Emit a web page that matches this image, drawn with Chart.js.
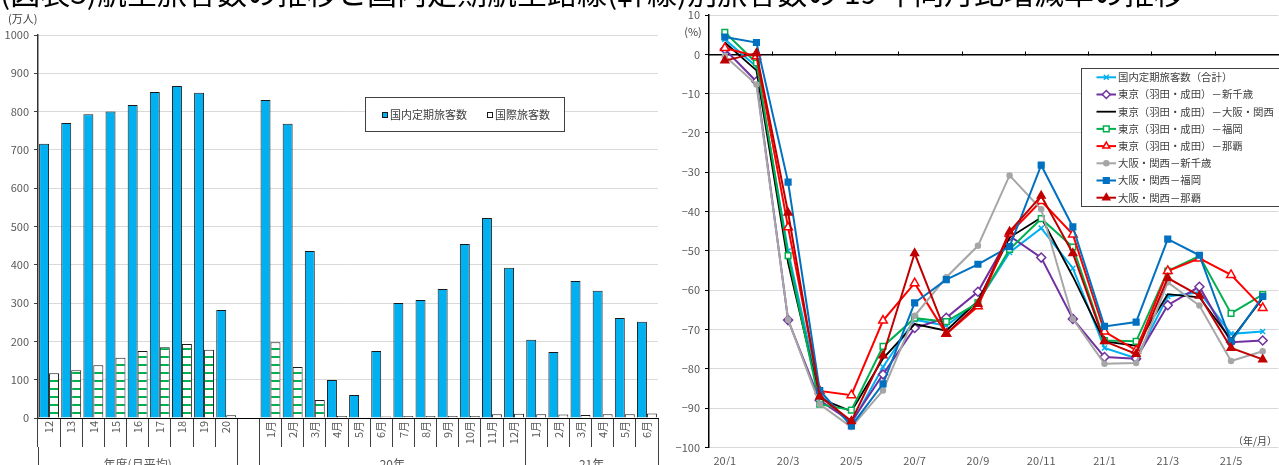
<!DOCTYPE html>
<html lang="ja">
<head>
<meta charset="utf-8">
<title>航空旅客数の推移</title>
<script src="https://cdn.jsdelivr.net/npm/chart.js@4.4.1/dist/chart.umd.min.js"></script>
<style>
  html, body { margin: 0; padding: 0; background: #fff; }
  body { width: 1279px; height: 465px; overflow: hidden; position: relative;
         font-family: "Noto Sans CJK JP", sans-serif; }
  #title { position: absolute; left: 0; top: -24px; font-size: 30px; line-height: 30px;
           white-space: pre; color: #000; z-index: 2; }
  #wrapL { position: absolute; left: 0; top: 0; width: 660px; height: 465px; }
  #wrapR { position: absolute; left: 660px; top: 0; width: 625px; height: 465px; }
</style>
</head>
<body>
<div id="wrapL"><canvas id="left" width="660" height="465"></canvas></div>
<div id="wrapR"><canvas id="right" width="625" height="465"></canvas></div>
<div id="title">(図表3)航空旅客数の推移と国内定期航空路線(幹線)別旅客数の 19 年同月比増減率の推移</div>

<script>
// ---- passenger volumes (10,000 persons) ----
const fiscalYears = ['12', '13', '14', '15', '16', '17', '18', '19', '20'];
const months2020 = ['1月', '2月', '3月', '4月', '5月', '6月', '7月', '8月', '9月', '10月', '11月', '12月'];
const months2021 = ['1月', '2月', '3月', '4月', '5月', '6月'];
const barCategories = [...fiscalYears, '', ...months2020, ...months2021];

const domesticPassengers = [716, 770, 793, 800, 817, 851, 867, 849, 282, null,
  830, 768, 436, 99, 60, 175, 300, 308, 337, 454, 522, 392,
  204, 172, 358, 332, 261, 251];
const internationalPassengers = [117, 125, 138, 157, 175, 185, 193, 178, 7, null,
  198, 133, 47, 5, 2, 4, 5, 5, 5, 5, 10, 11,
  10, 9, 8, 10, 10, 12];

const groupNames = ['年度(月平均)', '20年', '21年'];
const groupEdges = [0, 9, 10, 22, 28];
const groupCenters = [4.5, 16, 25];

// ---- change vs. same month of 2019 (%) ----
const monthLabels = ['20/1', '20/2', '20/3', '20/4', '20/5', '20/6', '20/7', '20/8', '20/9', '20/10', '20/11', '20/12',
  '21/1', '21/2', '21/3', '21/4', '21/5', '21/6'];
const totalDomestic   = [3.8, -3.1, -50, -86.5, -94, -79.5, -67.5, -69, -63, -50.4, -44.2, -54.4, -74.7, -77.3, -61.6, -60.5, -71.1, -70.5];
const tokyoSapporo    = [1.3, -6.9, -67.6, -88, -93.5, -81.4, -69.6, -67, -60.4, -46.2, -51.7, -67.3, -77, -77.4, -63.8, -59.1, -73.2, -72.8];
const tokyoOsaka      = [3.0, -4.1, -53, -87.5, -90.8, -77.4, -68.6, -70.3, -62.7, -46.6, -41.5, -56.5, -73, -74.1, -61, -61.8, -72.6, -62];
const tokyoFukuoka    = [5.6, -2.2, -51.2, -89, -90.5, -74.3, -67.1, -68, -63.2, -49.6, -41.8, -49, -72.8, -73, -55.1, -51.3, -65.9, -61.1];
const tokyoNaha       = [1.6, -0.5, -44, -85.6, -86.7, -67.7, -58.2, -71.1, -64.1, -45.6, -37.3, -45.8, -70.5, -75.3, -55.1, -51.9, -56.1, -64.5];
const osakaSapporo    = [-0.4, -7.7, -67.5, -89, -94.8, -85.5, -66.5, -56.7, -48.7, -30.8, -39.4, -67.3, -78.7, -78.5, -58, -63.9, -78, -75.5];
const osakaFukuoka    = [4.4, 3.0, -32.5, -85.5, -94.5, -83.8, -63.2, -57.3, -53.4, -48.9, -28.2, -43.9, -69.2, -68.1, -47, -51.1, -73, -61.6];
const osakaNaha       = [-1.6, 0.3, -40.3, -87, -93.3, -76.6, -50.6, -71.1, -63.5, -45.1, -36, -50.6, -73, -76.2, -56.9, -61.4, -74.7, -77.6];

const routeNames = ['国内定期旅客数（合計）', '東京（羽田・成田）－新千歳', '東京（羽田・成田）－大阪・関西',
  '東京（羽田・成田）－福岡', '東京（羽田・成田）－那覇', '大阪・関西－新千歳', '大阪・関西－福岡', '大阪・関西－那覇'];
const routeValues = [totalDomestic, tokyoSapporo, tokyoOsaka, tokyoFukuoka, tokyoNaha, osakaSapporo, osakaFukuoka, osakaNaha];

// line and marker look for each route
const routeStyles = [
  { color: '#00B0F0', point: 'crossRot', radius: 3.5, fill: '#00B0F0', width: 2 },
  { color: '#7030A0', point: 'rectRot',  radius: 4.5, fill: '#FFFFFF', width: 2 },
  { color: '#000000', point: false,      radius: 0,   fill: '#000000', width: 1.8 },
  { color: '#00B050', point: 'rect',     radius: 4,   fill: '#FFFFFF', width: 2 },
  { color: '#FF0000', point: 'triangle', radius: 5,   fill: '#FFFFFF', width: 2 },
  { color: '#A6A6A6', point: 'circle',   radius: 2.5, fill: '#A6A6A6', width: 2 },
  { color: '#0070C0', point: 'rect',     radius: 4,   fill: '#0070C0', width: 2 },
  { color: '#C00000', point: 'triangle', radius: 4.5, fill: '#C00000', width: 2 }
];

const FONT = '"Liberation Sans Narrow", "Noto Sans CJK JP", sans-serif';
const CJK = '"Noto Sans CJK JP", sans-serif';
const AXIS_TEXT = '#595959';
Chart.defaults.font.family = FONT;
Chart.defaults.animation = false;

// white fill with green horizontal stripes for the international bars
function stripeFill(ctx) {
  const tile = document.createElement('canvas');
  tile.width = 8; tile.height = 8;
  const g = tile.getContext('2d');
  g.fillStyle = '#FFFFFF'; g.fillRect(0, 0, 8, 8);
  g.fillStyle = '#00B050'; g.fillRect(0, 4, 8, 2);
  return ctx.createPattern(tile, 'repeat');
}

// boxed legend + unit caption of the bar chart
const barDecor = {
  id: 'barDecor',
  afterDraw(chart) {
    const ctx = chart.ctx;
    ctx.save();
    ctx.strokeStyle = '#404040'; ctx.lineWidth = 1;
    ctx.fillStyle = '#FFFFFF';
    ctx.fillRect(365.5, 97.5, 199, 34);
    ctx.strokeRect(365.5, 97.5, 199, 34);
    const marks = [{ x: 382, tx: 390 }, { x: 487, tx: 495 }];
    chart.data.datasets.forEach((ds, i) => {
      const m = marks[i];
      ctx.fillStyle = i === 0 ? ds.backgroundColor : '#FFFFFF';
      ctx.fillRect(m.x + 0.5, 112.5, 5, 5);
      ctx.strokeStyle = '#1a1a1a';
      ctx.strokeRect(m.x + 0.5, 112.5, 5, 5);
      ctx.fillStyle = '#404040';
      ctx.font = '11px ' + CJK;
      ctx.textBaseline = 'middle';
      ctx.textAlign = 'left';
      ctx.fillText(ds.label, m.tx, 115);
    });
    ctx.font = '11px ' + CJK;
    ctx.fillStyle = '#404040';
    ctx.textAlign = 'left';
    ctx.textBaseline = 'middle';
    ctx.fillText('(万人)', 8, 19);
    ctx.restore();
  }
};

const leftCtx = document.getElementById('left').getContext('2d');
new Chart(leftCtx, {
  type: 'bar',
  data: {
    labels: barCategories,
    datasets: [
      { label: '国内定期旅客数', data: domesticPassengers, xAxisID: 'x', yAxisID: 'y',
        backgroundColor: '#00B0F0', borderColor: '#1a1a1a', borderWidth: 1,
        categoryPercentage: 0.9, barPercentage: 1 },
      { label: '国際旅客数', data: internationalPassengers, xAxisID: 'x', yAxisID: 'y',
        backgroundColor: stripeFill(leftCtx), borderColor: '#1a1a1a', borderWidth: 1,
        categoryPercentage: 0.9, barPercentage: 1 }
    ]
  },
  options: {
    responsive: false,
    layout: { padding: { top: 35, right: 2, left: 0, bottom: 0 } },
    plugins: { legend: { display: false }, tooltip: { enabled: false } },
    scales: {
      x: {
        type: 'category', position: 'bottom', weight: 0, offset: true,
        grid: { display: true, drawOnChartArea: false, offset: true, tickLength: 29, tickColor: '#404040', tickWidth: 1 },
        border: { color: '#000000', width: 1 },
        ticks: { autoSkip: false, minRotation: 90, maxRotation: 90, padding: -26, color: AXIS_TEXT, font: { size: 11 } },
        afterFit(s) { s.height = 29; }
      },
      xg: {
        type: 'linear', position: 'bottom', weight: 1, min: 0, max: 28,
        offset: false, bounds: 'data', beginAtZero: false,
        grid: { drawOnChartArea: false, offset: false, tickLength: 18, tickWidth: 1,
          tickColor: c => (c.tick && groupEdges.includes(c.tick.value)) ? '#404040' : 'rgba(0,0,0,0)' },
        border: { display: false },
        afterBuildTicks(s) { s.ticks = [...groupEdges, ...groupCenters].sort((a, b) => a - b).map(v => ({ value: v })); },
        ticks: { autoSkip: false, maxRotation: 0, minRotation: 0, padding: -8, color: AXIS_TEXT,
          font: { size: 12, family: CJK },
          callback: v => { const k = groupCenters.indexOf(v); return k >= 0 ? groupNames[k] : ''; } },
        afterFit(s) { s.height = 18; }
      },
      y: {
        min: 0, max: 1000,
        ticks: { stepSize: 100, padding: 5, color: AXIS_TEXT, font: { size: 11 }, callback: v => String(v) },
        grid: { color: '#D9D9D9', tickLength: 4, tickColor: '#404040' },
        border: { color: '#333333', width: 1.5 },
        afterFit(s) { s.width = 38; }
      }
    }
  },
  plugins: [barDecor]
});

// boxed legend and captions of the line chart
const lineDecor = {
  id: 'lineDecor',
  afterDraw(chart) {
    const ctx = chart.ctx;
    ctx.save();
    ctx.fillStyle = '#FFFFFF';
    ctx.fillRect(421.5, 68.5, 220, 138);
    ctx.strokeStyle = '#404040'; ctx.lineWidth = 1;
    ctx.strokeRect(421.5, 68.5, 220, 138);
    chart.data.datasets.forEach((ds, i) => {
      const y = 77.3 + i * 17.2;
      ctx.strokeStyle = ds.borderColor;
      ctx.lineWidth = ds.borderWidth;
      ctx.beginPath(); ctx.moveTo(436.5, y); ctx.lineTo(456, y); ctx.stroke();
      if (ds.pointStyle && Chart.helpers && Chart.helpers.drawPoint) {
        ctx.fillStyle = ds.pointBackgroundColor;
        ctx.strokeStyle = ds.borderColor;
        ctx.lineWidth = 1.5;
        Chart.helpers.drawPoint(ctx, { pointStyle: ds.pointStyle, radius: Math.min(ds.pointRadius, 4), borderWidth: 1.5, rotation: 0 }, 446.3, y);
      }
      ctx.fillStyle = '#404040';
      ctx.font = '10.4px ' + CJK;
      ctx.textAlign = 'left'; ctx.textBaseline = 'middle';
      ctx.fillText(ds.label, 458, y);
    });
    ctx.fillStyle = '#404040';
    ctx.font = '11px ' + CJK;
    ctx.textAlign = 'center'; ctx.textBaseline = 'middle';
    ctx.fillText('(%)', 33, 32);
    ctx.font = '10px ' + CJK;
    ctx.fillText('（年/月）', 595, 441);
    ctx.restore();
  }
};

const rightCtx = document.getElementById('right').getContext('2d');
new Chart(rightCtx, {
  type: 'line',
  data: {
    labels: monthLabels,
    datasets: routeNames.map((name, i) => {
      const s = routeStyles[i];
      return {
        label: name, data: routeValues[i], xAxisID: 'x', yAxisID: 'y',
        borderColor: s.color, borderWidth: s.width, fill: false, tension: 0,
        pointStyle: s.point, pointRadius: s.radius, pointBackgroundColor: s.fill,
        pointBorderColor: s.color, pointBorderWidth: 1.5,
        order: routeNames.length - i
      };
    })
  },
  options: {
    responsive: false,
    layout: { padding: { top: 15, right: 0, left: 0, bottom: 0 } },
    plugins: { legend: { display: false }, tooltip: { enabled: false } },
    scales: {
      x: {
        type: 'category', position: 'bottom', offset: true,
        grid: { display: false, drawTicks: false },
        border: { display: false },
        ticks: { autoSkip: false, maxRotation: 0, minRotation: 0, padding: 7, color: AXIS_TEXT, font: { size: 11 },
          callback(v, i) { return i % 2 === 0 ? this.getLabelForValue(v) : ''; } },
        afterFit(s) { s.height = 17.5; }
      },
      x0: {
        type: 'category', axis: 'x', position: { y: 0 }, offset: true,
        grid: { drawOnChartArea: false, offset: true, tickLength: -4, tickWidth: 1,
          tickColor: c => (c.index > 0 && c.index % 2 === 0) ? '#000000' : 'rgba(0,0,0,0)' },
        border: { display: true, color: '#000000', width: 1.5 },
        ticks: { display: false }
      },
      y: {
        min: -100, max: 10,
        ticks: { stepSize: 10, padding: 5, color: AXIS_TEXT, font: { size: 11 },
          callback: v => v < 0 ? '−' + Math.abs(v) : String(v) },
        grid: { color: c => (c.tick && c.tick.value === 0) ? 'rgba(0,0,0,0)' : '#D9D9D9', tickLength: 4, tickColor: '#000000' },
        border: { color: '#000000', width: 1.5 },
        afterFit(s) { s.width = 49; }
      }
    }
  },
  plugins: [lineDecor]
});
</script>
</body>
</html>
